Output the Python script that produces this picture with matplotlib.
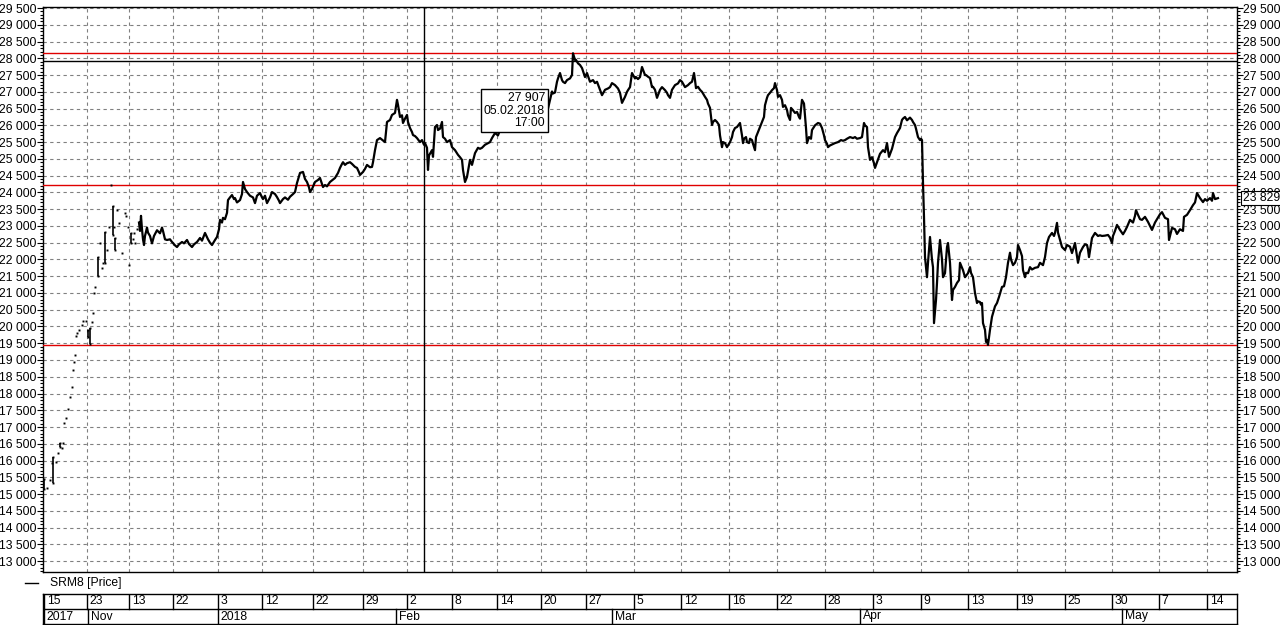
import matplotlib
matplotlib.use("Agg")
import numpy as np
import matplotlib.pyplot as plt
from matplotlib.lines import Line2D
from matplotlib.ticker import MultipleLocator, FuncFormatter

plt.rcParams['font.family'] = ['Liberation Sans', 'DejaVu Sans']

# --- dados: numero da barra (sessao) x preco ---
# inicio do contrato: pontos soltos / barras verticais (baixa liquidez)
early_bar = [0, 0, 3, 6, 9, 9, 8, 12, 14, 16, 16, 18, 19, 20, 22, 24, 26, 28, 29, 30, 31,
             32, 33, 35, 38, 39, 42, 44, 44, 46, 46, 48, 49, 50, 51, 54, 54, 56, 58, 59,
             61, 61, 63, 65, 67, 69, 69, 70, 71, 71, 73, 75, 78, 81, 82, 84, 85, 87, 87,
             89, 90, 91, 93]
early_price = [15450, 15150, 15180, 15420, 16100, 15330, 15930, 15960, 16220, 16520, 16400,
               16370, 16520, 17120, 17270, 17540, 17900, 18200, 18700, 18940, 19150, 19720,
               19800, 19900, 20050, 20170, 20170, 19900, 19690, 19950, 19480, 20130, 20400,
               21000, 21180, 21500, 22070, 22490, 21740, 21900, 22820, 21900, 22280, 22970,
               24220, 22730, 23600, 22970, 22640, 22280, 23480, 23090, 22190, 23390, 23300,
               22970, 21830, 22490, 22790, 22600, 22800, 22500, 22900]

bar = [95, 96, 97, 98, 99, 100, 101, 103, 104, 106, 108, 110, 113, 116, 118, 119, 121,
       123, 126, 128, 129, 131, 133, 135, 138, 140, 143, 145, 148, 150, 153, 156, 158, 161,
       164, 166, 168, 171, 173, 175, 176, 178, 179, 181, 183, 184, 186, 188, 190, 191, 193,
       196, 198, 199, 201, 203, 206, 209, 211, 213, 216, 218, 219, 221, 223, 226, 228, 231,
       233, 235, 236, 239, 241, 244, 246, 249, 251, 253, 256, 259, 261, 263, 265, 266, 268,
       271, 274, 276, 278, 279, 281, 283, 286, 289, 291, 294, 296, 298, 299, 301, 303, 306,
       308, 309, 311, 313, 315, 316, 318, 319, 321, 323, 326, 328, 329, 331, 333, 335, 336,
       339, 341, 342, 343, 346, 348, 351, 353, 354, 356, 358, 359, 361, 363, 364, 366, 368,
       369, 371, 373, 376, 378, 380, 381, 383, 384, 385, 388, 389, 391, 393, 394, 396, 398,
       399, 401, 403, 406, 408, 411, 414, 416, 418, 419, 421, 423, 425, 426, 428, 431, 434,
       436, 438, 441, 444, 446, 448, 451, 454, 456, 458, 459, 462, 466, 471, 476, 481, 486,
       491, 496, 501, 504, 506, 508, 509, 511, 513, 514, 516, 518, 519, 521, 523, 526, 528,
       529, 531, 532, 534, 536, 538, 541, 543, 546, 549, 551, 553, 556, 558, 561, 564, 566,
       568, 571, 574, 576, 578, 581, 583, 584, 586, 588, 591, 592, 594, 596, 598, 601, 602,
       604, 606, 608, 609, 611, 613, 616, 618, 621, 623, 624, 626, 628, 631, 634, 636, 638,
       641, 644, 646, 648, 650, 651, 652, 654, 656, 658, 661, 663, 664, 666, 668, 669, 671,
       673, 675, 676, 678, 679, 681, 683, 686, 688, 689, 691, 693, 696, 698, 699, 700, 702,
       703, 705, 706, 708, 709, 711, 712, 714, 716, 718, 720, 721, 723, 724, 726, 728, 730,
       731, 733, 734, 736, 738, 739, 741, 743, 744, 746, 747, 749, 751, 753, 755, 756, 758,
       760, 762, 763, 765, 767, 768, 771, 774, 776, 778, 780, 781, 783, 784, 786, 791, 794,
       797, 799, 801, 803, 806, 809, 811, 813, 816, 818, 820, 821, 823, 824, 826, 828, 830,
       831, 833, 835, 836, 839, 841, 843, 845, 848, 851, 853, 856, 858, 859, 861, 863, 866,
       868, 869, 871, 872, 874, 876, 877, 878, 879, 880, 881, 883, 884, 886, 888, 889, 890,
       892, 893, 894, 896, 898, 899, 901, 903, 904, 906, 908, 909, 911, 913, 915, 916, 918,
       919, 921, 923, 924, 926, 927, 929, 931, 933, 934, 936, 937, 938, 939, 941, 942, 943,
       944, 946, 948, 950, 951, 953, 955, 958, 960, 962, 964, 966, 967, 969, 971, 973, 974,
       976, 978, 979, 981, 982, 984, 986, 988, 991, 994, 996, 999, 1001, 1003, 1005, 1008,
       1010, 1011, 1013, 1014, 1016, 1018, 1021, 1023, 1026, 1028, 1031, 1034, 1036, 1039,
       1041, 1043, 1044, 1045, 1048, 1051, 1054, 1056, 1058, 1061, 1064, 1066, 1068, 1069,
       1071, 1073, 1076, 1079, 1081, 1083, 1086, 1089, 1091, 1092, 1094, 1096, 1098, 1101,
       1104, 1106, 1108, 1111, 1114, 1116, 1118, 1121, 1124, 1125, 1128, 1131, 1133, 1136,
       1139, 1140, 1143, 1146, 1149, 1151, 1153, 1156, 1159, 1161, 1163, 1166, 1168, 1169,
       1171, 1174]
price = [23100, 22850, 23300, 22900, 22600, 22430, 22700, 22950, 22800, 22700, 22480,
         22700, 22870, 22780, 22950, 22850, 22600, 22580, 22600, 22520, 22490, 22420, 22370,
         22450, 22520, 22480, 22580, 22460, 22370, 22450, 22520, 22640, 22560, 22790, 22600,
         22500, 22430, 22580, 22670, 22900, 23180, 23100, 23240, 23200, 23390, 23770, 23850,
         23920, 23800, 23830, 23700, 23770, 23950, 24310, 24100, 24010, 23900, 23850, 23680,
         23900, 23980, 23850, 23800, 23900, 23680, 23850, 24010, 23950, 23860, 23750, 23680,
         23800, 23850, 23780, 23870, 23950, 24010, 24280, 24580, 24610, 24400, 24310, 24150,
         24010, 24100, 24310, 24370, 24430, 24250, 24160, 24220, 24180, 24310, 24380, 24430,
         24580, 24730, 24850, 24900, 24820, 24870, 24900, 24850, 24820, 24760, 24730, 24600,
         24520, 24580, 24610, 24700, 24820, 24750, 24760, 24900, 25260, 25560, 25600, 25620,
         25550, 25500, 25800, 26100, 26160, 26310, 26370, 26760, 26610, 26250, 26300, 26070,
         26200, 26310, 26100, 25920, 25800, 25710, 25680, 25620, 25500, 25560, 25420, 25470,
         25330, 24670, 25100, 25260, 25060, 25950, 26010, 25860, 25900, 26100, 25650, 25600,
         25500, 25560, 25350, 25260, 25120, 25050, 24970, 24670, 24310, 24460, 24800, 24970,
         24820, 25170, 25330, 25300, 25330, 25420, 25470, 25500, 25620, 25770, 25700, 25860,
         25950, 25900, 25950, 26000, 26050, 26100, 26150, 26250, 26200, 26300, 26310, 26500,
         26760, 27010, 26950, 26980, 27300, 27400, 27560, 27350, 27300, 27260, 27350, 27400,
         27500, 28150, 27950, 27950, 27850, 27800, 27710, 27440, 27560, 27300, 27350, 27260,
         27300, 27060, 26900, 27060, 27100, 27140, 27260, 27200, 27100, 26970, 26670, 26850,
         27000, 27050, 27140, 27560, 27400, 27440, 27380, 27440, 27740, 27500, 27500, 27450,
         27410, 27140, 27150, 27060, 26820, 27060, 27140, 27050, 26970, 26900, 26820, 27060,
         27200, 27250, 27350, 27300, 27140, 27200, 27260, 27300, 27560, 27350, 27110, 27150,
         27060, 27000, 26850, 26760, 26650, 26520, 26010, 26100, 26160, 26100, 26010, 25700,
         25350, 25500, 25470, 25350, 25500, 25650, 25800, 25920, 25950, 26070, 25700, 25470,
         25600, 25650, 25500, 25470, 25600, 25560, 25450, 25260, 25650, 25800, 25950, 26100,
         26250, 26600, 26820, 26900, 26970, 27050, 27110, 27260, 27050, 26850, 26900, 26760,
         26550, 26600, 26460, 26300, 26160, 26520, 26450, 26370, 26400, 26250, 26200, 26760,
         26650, 25920, 25470, 25650, 25600, 25860, 26000, 26070, 26050, 25920, 25700, 25560,
         25450, 25350, 25400, 25470, 25500, 25560, 25540, 25560, 25600, 25650, 25620, 25650,
         25600, 25620, 25650, 26070, 26000, 25950, 25350, 24970, 25050, 24870, 24730, 24900,
         25060, 25150, 25260, 25200, 25470, 25060, 25300, 25650, 25770, 25920, 26160, 26200,
         26250, 26150, 26230, 26160, 26100, 26010, 25900, 25650, 25560, 25600, 25560, 24280,
         23270, 22070, 21470, 21900, 22670, 21990, 21770, 20100, 20790, 21300, 21900, 22580,
         22000, 21470, 21590, 22370, 22490, 21900, 20790, 21090, 21180, 21300, 21380, 21900,
         21750, 21680, 21470, 21550, 21590, 21770, 21600, 21470, 21000, 20700, 20750, 20730,
         20650, 20700, 20100, 19900, 19540, 19600, 19450, 19900, 20290, 20500, 20600, 20700,
         20880, 21180, 21200, 21470, 21900, 22200, 22000, 21830, 21900, 22070, 22430, 22280,
         22100, 21680, 21470, 21600, 21590, 21770, 21700, 21750, 21770, 21900, 21830, 22070,
         22490, 22670, 22790, 22700, 22790, 23090, 22800, 22580, 22370, 22280, 22430, 22380,
         22190, 22490, 21900, 22200, 22370, 22450, 22430, 22300, 22070, 22640, 22790, 22700,
         22720, 22700, 22710, 22730, 22650, 22490, 22700, 22850, 23030, 22880, 22750, 22850,
         22970, 23180, 23100, 23300, 23470, 23330, 23200, 23180, 23270, 23120, 23000, 22880,
         23100, 23250, 23350, 23410, 23240, 23200, 22580, 22940, 22900, 22760, 22900, 22850,
         23270, 23330, 23470, 23620, 23700, 23980, 23830, 23710, 23800, 23750, 23830, 23750,
         23980, 23800, 23829]

# escala de datas (barra onde cada rotulo comeca)
day_bars = [0, 43, 85, 129, 174, 218, 269, 319, 363, 408, 453, 497, 542, 590, 637, 685,
            733, 781, 829, 877, 924, 973, 1021, 1068, 1115, 1163]
day_labels = ["15", "23", "13", "22", "3", "12", "22", "29", "2", "8", "14", "20", "27",
              "5", "12", "16", "22", "28", "3", "9", "13", "19", "25", "30", "7", "14"]
month_bars = [0, 44, 174, 352, 568, 816, 1078]
month_labels = ["2017", "Nov", "2018", "Feb", "Mar", "Apr", "May"]

# niveis horizontais e cursor
red_levels = [28150, 24220, 19440]
cursor_bar = 380
cursor_price = 27907
cursor_text = "27 907\n05.02.2018\n17:00"
last_price = 23829

FS = 8.7
W, H = 1280, 625
fig = plt.figure(figsize=(W / 100, H / 100), dpi=100)
fig.patch.set_facecolor("white")

ax = fig.add_axes([43 / W, 1 - 572 / H, 1194 / W, 565 / H])
ax.set_xlim(-1, 1193)
ax.set_ylim(12676, 29530)

fmt = FuncFormatter(lambda v, p: f"{int(v):,}".replace(",", " "))
ax.yaxis.set_major_locator(MultipleLocator(500))
ax.yaxis.set_minor_locator(MultipleLocator(100))
ax.yaxis.set_major_formatter(fmt)
ax.tick_params(axis="y", which="both", direction="out", left=True, right=True,
               labelleft=True, labelright=True, labelsize=FS, pad=0.6)
ax.tick_params(axis="y", which="major", length=4, width=0.8)
ax.tick_params(axis="y", which="minor", length=2, width=0.8)
ax.set_xticks([])
for s in ax.spines.values():
    s.set_linewidth(1.0)
    s.set_color("black")

# grade tracejada
for yv in np.arange(13000, 29501, 500):
    ax.axhline(yv, color="#808080", lw=0.8, ls=(0, (3, 3)), zorder=1)
for xv in day_bars[1:]:
    ax.axvline(xv, color="#808080", lw=0.8, ls=(0, (3, 3)), zorder=1)

for lv in red_levels:
    ax.axhline(lv, color="#e00000", lw=1.0, zorder=3)
ax.axhline(cursor_price, color="black", lw=1.0, zorder=3)
ax.axvline(cursor_bar, color="black", lw=1.0, zorder=3)

# serie
eb = np.array(early_bar)
ep = np.array(early_price)
for b in np.unique(eb):
    vals = ep[eb == b]
    if len(vals) > 1:
        ax.vlines(b, vals.min(), vals.max(), color="black", lw=1.2, zorder=4)
ax.plot(eb, ep, "s", color="black", ms=1.4, mew=0, zorder=4)
ax.plot(bar, price, color="black", lw=1.6, zorder=4)

# caixa do cursor
ax.text(501, 26440, cursor_text, ha="right", va="center", fontsize=FS, linespacing=1.05,
        zorder=8, bbox=dict(boxstyle="square,pad=0.22", fc="white", ec="black", lw=1))

# preco atual na escala direita
ax.annotate(f"{last_price:,}".replace(",", " "), xy=(1, last_price),
            xycoords=("axes fraction", "data"), xytext=(4, 0), textcoords="offset points",
            ha="left", va="center", fontsize=FS, zorder=10, annotation_clip=False,
            bbox=dict(boxstyle="square,pad=0.1", fc="white", ec="black", lw=0.8))

# legenda
fig.add_artist(Line2D([25 / W, 38 / W], [1 - 583 / H, 1 - 583 / H], color="black", lw=1))
fig.text(50 / W, 1 - 583 / H, "SRM8 [Price]", fontsize=FS, va="center", ha="left")

# eixo de datas em duas linhas
dax = fig.add_axes([43 / W, 1 - 624 / H, 1194 / W, 30 / H])
dax.set_xlim(-1, 1193)
dax.set_ylim(0, 2)
dax.set_xticks([])
dax.set_yticks([])
for s in dax.spines.values():
    s.set_linewidth(1.0)
dax.axhline(1, color="black", lw=1.0)
for b, lab in zip(day_bars, day_labels):
    dax.plot([b, b], [1, 2], color="black", lw=1.0)
    dax.annotate(lab, xy=(b, 1.5), xytext=(2, 0), textcoords="offset points",
                 ha="left", va="center", fontsize=FS)
for b, lab in zip(month_bars, month_labels):
    dax.plot([b, b], [0, 1], color="black", lw=1.0)
    dax.annotate(lab, xy=(b, 0.5), xytext=(2, 0), textcoords="offset points",
                 ha="left", va="center", fontsize=FS)

fig.savefig("out.png", dpi=100)
